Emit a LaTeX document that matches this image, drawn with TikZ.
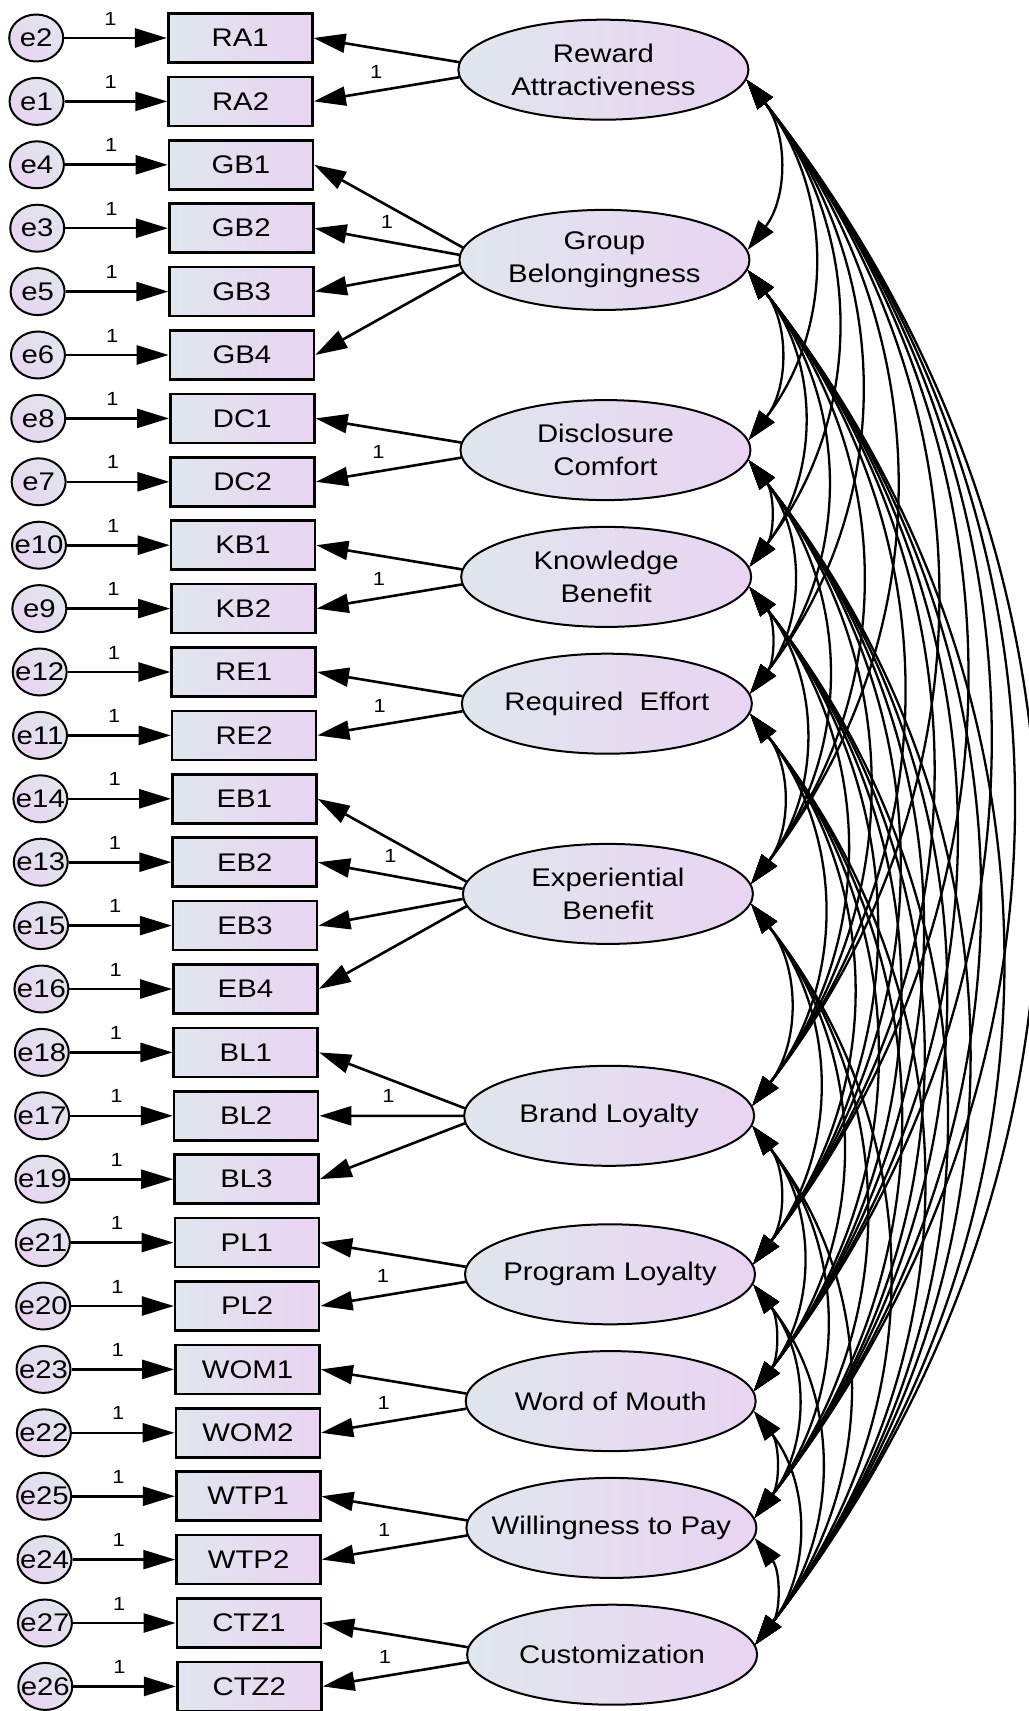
\documentclass[tikz,border=0pt]{standalone}
\usepackage{fontspec}
\setmainfont{Liberation Sans}[FakeStretch=1.15]
\usetikzlibrary{arrows.meta,shapes.geometric}

\definecolor{amosgrey}{RGB}{224,230,237}
\definecolor{amoslilac}{RGB}{233,212,242}

\tikzset{
  obs/.style={draw, line width=1.3pt, rectangle, minimum width=72pt, minimum height=24.5pt, inner sep=0pt,
    left color=amosgrey, right color=amoslilac, font=\fontsize{12.75}{15}\selectfont},
  err/.style={draw, line width=1pt, ellipse, minimum width=27pt, minimum height=23.5pt, inner sep=0pt,
    top color=amosgrey, bottom color=amoslilac, shading angle=-45},
  errtext/.style={font=\fontsize{12.75}{15}\selectfont},
  lat/.style={draw, line width=1pt, ellipse, minimum width=145pt, minimum height=50pt, inner sep=0pt,
    left color=amosgrey, right color=amoslilac},
  lattext/.style={align=center, font=\fontsize{12.75}{16.5}\selectfont},
  one/.style={font=\fontsize{9.5}{10}\selectfont},
  load/.style={line width=1.3pt, -{Triangle[length=16pt,width=9.5pt]}},
  cov/.style={line width=1.15pt, {Triangle[length=15pt,width=9.5pt]}-{Triangle[length=15pt,width=9.5pt]}, bend left=38}
}

\begin{document}
\begin{tikzpicture}[x=0.5pt, y={(0.00275pt,-0.5pt)}]
 \useasboundingbox (0pt,0pt) rectangle (514pt,-855.5pt);

	% Indicateurs et erreurs
 \foreach \ind/\err [count=\i from 0] in {RA1/e2, RA2/e1, GB1/e4, GB2/e3, GB3/e5, GB4/e6, DC1/e8, DC2/e7,
     KB1/e10, KB2/e9, RE1/e12, RE2/e11, EB1/e14, EB2/e13, EB3/e15, EB4/e16, BL1/e18, BL2/e17, BL3/e19,
     PL1/e21, PL2/e20, WOM1/e23, WOM2/e22, WTP1/e25, WTP2/e24, CTZ1/e27, CTZ2/e26} {
   \node[obs] (\ind) at (240,{38+63.4*\i}) {\ind};
   \node[err, label={[errtext]center:\err}] (\err) at (36,{38+63.4*\i}) {};
   \draw[load] (\err) -- (\ind) node[one, pos=.45, above=2.5pt]{1};
 }

	% Variables latentes
 \node[lat, label={[lattext]center:Reward\\Attractiveness}] (RA) at (603,69.7) {};
 \node[lat, label={[lattext]center:Group\\Belongingness}] (GB) at (603,259.9) {};
 \node[lat, label={[lattext]center:Disclosure\\Comfort}] (DC) at (603,450.1) {};
 \node[lat, label={[lattext]center:Knowledge\\Benefit}] (KB) at (603,576.9) {};
 \node[lat, label={[lattext]center:Required\ \ Effort}] (RE) at (603,703.7) {};
 \node[lat, label={[lattext]center:Experiential\\Benefit}] (EB) at (603,893.9) {};
 \node[lat, label={[lattext]center:Brand Loyalty}] (BL) at (603,1115.8) {};
 \node[lat, label={[lattext]center:Program Loyalty}] (PL) at (603,1274.3) {};
 \node[lat, label={[lattext]center:Word of Mouth}] (WOM) at (603,1401.1) {};
 \node[lat, label={[lattext]center:Willingness to Pay}] (WTP) at (603,1527.9) {};
 \node[lat, label={[lattext]center:Customization}] (CTZ) at (603,1654.7) {};

	% Saturations
 \draw[load] (RA.177) -- (RA1.east);
 \draw[load] (RA.183) -- (RA2.east) node[one, pos=.57, above=2.5pt]{1};
 \draw[load] (GB.175) -- (GB1.east);
 \draw[load] (GB.178) -- (GB2.east) node[one, pos=.5, above=2.5pt]{1};
 \draw[load] (GB.182) -- (GB3.east);
 \draw[load] (GB.185) -- (GB4.east);
 \draw[load] (DC.177) -- (DC1.east);
 \draw[load] (DC.183) -- (DC2.east) node[one, pos=.57, above=2.5pt]{1};
 \draw[load] (KB.177) -- (KB1.east);
 \draw[load] (KB.183) -- (KB2.east) node[one, pos=.57, above=2.5pt]{1};
 \draw[load] (RE.177) -- (RE1.east);
 \draw[load] (RE.183) -- (RE2.east) node[one, pos=.57, above=2.5pt]{1};
 \draw[load] (EB.175) -- (EB1.east);
 \draw[load] (EB.178) -- (EB2.east) node[one, pos=.5, above=2.5pt]{1};
 \draw[load] (EB.182) -- (EB3.east);
 \draw[load] (EB.185) -- (EB4.east);
 \draw[load] (BL.177) -- (BL1.east);
 \draw[load] (BL.west) -- (BL2.east) node[one, pos=.52, above=2.5pt]{1};
 \draw[load] (BL.183) -- (BL3.east);
 \draw[load] (PL.177) -- (PL1.east);
 \draw[load] (PL.183) -- (PL2.east) node[one, pos=.57, above=2.5pt]{1};
 \draw[load] (WOM.177) -- (WOM1.east);
 \draw[load] (WOM.183) -- (WOM2.east) node[one, pos=.57, above=2.5pt]{1};
 \draw[load] (WTP.177) -- (WTP1.east);
 \draw[load] (WTP.183) -- (WTP2.east) node[one, pos=.57, above=2.5pt]{1};
 \draw[load] (CTZ.177) -- (CTZ1.east);
 \draw[load] (CTZ.183) -- (CTZ2.east) node[one, pos=.57, above=2.5pt]{1};

	% Covariances
 \foreach \a/\rest in {RA/{GB,DC,KB,RE,EB,BL,PL,WOM,WTP,CTZ}, GB/{DC,KB,RE,EB,BL,PL,WOM,WTP,CTZ},
     DC/{KB,RE,EB,BL,PL,WOM,WTP,CTZ}, KB/{RE,EB,BL,PL,WOM,WTP,CTZ}, RE/{EB,BL,PL,WOM,WTP,CTZ},
     EB/{BL,PL,WOM,WTP,CTZ}, BL/{PL,WOM,WTP,CTZ}, PL/{WOM,WTP,CTZ}, WOM/{WTP,CTZ}, WTP/{CTZ}}
   \foreach \b in \rest
     \draw[cov] (\a.-4) to (\b.4);

\end{tikzpicture}
\end{document}
